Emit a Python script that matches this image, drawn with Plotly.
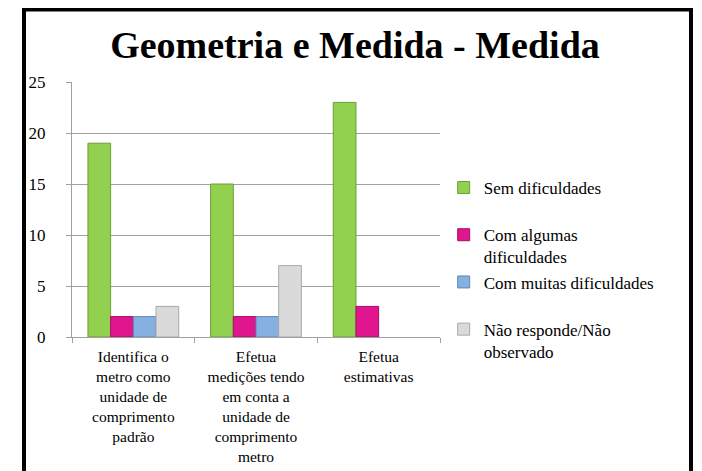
"""Geometria e Medida - Medida: grouped bar chart."""

import plotly.graph_objects as go

categories = [
    "Identifica o<br>metro como<br>unidade de<br>comprimento<br>padrão",
    "Efetua<br>medições tendo<br>em conta a<br>unidade de<br>comprimento<br>metro",
    "Efetua<br>estimativas",
]
# single-line names get an empty second line so every legend entry is equally tall
series_names = [
    "Sem dificuldades<br> ",
    "Com algumas<br>dificuldades",
    "Com muitas dificuldades<br> ",
    "Não responde/Não<br>observado",
]
sem_dificuldades = [19, 15, 23]
com_algumas = [2, 2, 3]
com_muitas = [2, 2, None]
nao_responde = [3, 7, None]
y_ticks = [0, 5, 10, 15, 20, 25]

colors = ["#92D050", "#E0168F", "#86B0E2", "#DADADA"]
edges = ["#6E9E35", "#A80E6A", "#5F88B8", "#A8A8A8"]

FONT = '"Liberation Serif", "Times New Roman", serif'

fig = go.Figure()
for i, (name, values) in enumerate(
    zip(series_names, [sem_dificuldades, com_algumas, com_muitas, nao_responde])
):
    fig.add_trace(
        go.Bar(
            name=name,
            x=categories,
            y=values,
            marker=dict(color=colors[i], line=dict(color=edges[i], width=1)),
            legendgroup=str(i),
        )
    )

# page is drawn 8px in from the window edge, so the figure is 8px smaller
fig.update_layout(
    width=694,
    height=463,
    paper_bgcolor="white",
    plot_bgcolor="white",
    font=dict(family=FONT, size=16, color="black"),
    title=dict(
        text="<b>Geometria e Medida - Medida</b>",
        font=dict(family=FONT, size=38, color="black"),
        x=0.5,
        xanchor="center",
        y=0.92,
        yanchor="middle",
    ),
    margin=dict(l=64, r=262, t=74, b=134),
    barmode="group",
    bargap=0.26,
    bargroupgap=0,
    showlegend=True,
    legend=dict(
        x=1.01,
        xanchor="left",
        y=0.655,
        yanchor="top",
        font=dict(family=FONT, size=17, color="black"),
        valign="top",
        tracegroupgap=0,
        itemwidth=30,
        bgcolor="rgba(0,0,0,0)",
    ),
    xaxis=dict(
        automargin=False,
        showline=True,
        linecolor="#A0A0A0",
        ticks="outside",
        tickson="boundaries",
        ticklen=5,
        tickcolor="#A0A0A0",
        ticklabelstandoff=5,
        tickfont=dict(family=FONT, size=15.5, color="black"),
    ),
    yaxis=dict(
        automargin=False,
        range=[0, 25],
        tickvals=y_ticks,
        showline=True,
        linecolor="#A0A0A0",
        ticks="outside",
        ticklen=5,
        tickcolor="#A0A0A0",
        ticklabelstandoff=17,
        showgrid=True,
        gridcolor="#A0A0A0",
        gridwidth=1,
        zeroline=False,
        tickfont=dict(family=FONT, size=17, color="black"),
    ),
)

# outer chart frame
fig.add_shape(
    type="rect",
    xref="paper",
    yref="paper",
    x0=(16 - 64) / 368,
    x1=(683 - 64) / 368,
    y0=-1.0,
    y1=(329 - 1.5) / 255,
    line=dict(color="black", width=4),
    layer="above",
)

fig.write_html("out.html")
